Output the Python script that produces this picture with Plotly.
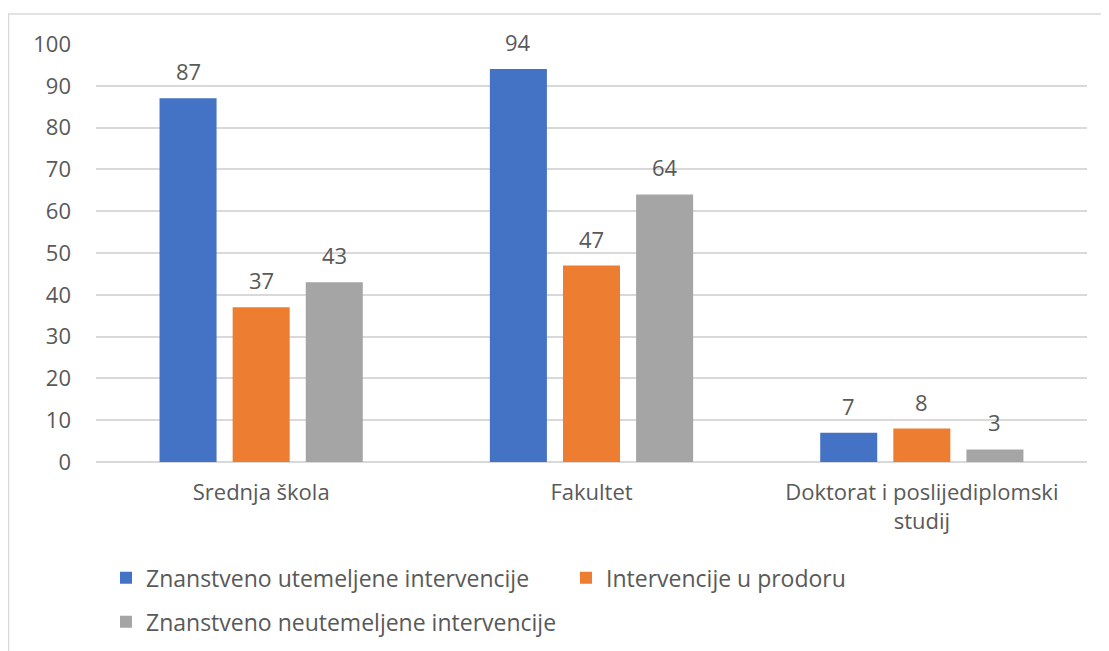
import plotly.graph_objects as go

# ---- data ----
categories = ["Srednja škola", "Fakultet", "Doktorat i poslijediplomski<br>studij"]
series_names = [
    "Znanstveno utemeljene intervencije",
    "Intervencije u prodoru",
    "Znanstveno neutemeljene intervencije",
]
utemeljene = [87, 94, 7]
u_prodoru = [37, 47, 8]
neutemeljene = [43, 64, 3]
y_ticks = [0, 10, 20, 30, 40, 50, 60, 70, 80, 90, 100]

series_values = [utemeljene, u_prodoru, neutemeljene]
colors = ["#4472C4", "#ED7D31", "#A5A5A5"]
legend_ids = ["legend", "legend", "legend2"]

FONT = "Open Sans"
TXT = "#595959"
GRID = "#D9D9D9"
FS = 22
FS_LEG = 23

# page offset introduced by the default body margin
OFF = 8
W, H = 1109 - OFF, 651 - OFF
# plot area in page pixels: x 96..1087, y 43.5..462
PX0, PX1, PY0, PY1 = 96, 1087, 43.5, 462
ML, MR = PX0 - OFF, W - (PX1 - OFF)
MT, MB = PY0 - OFF, H - (PY1 - OFF)
BARGAP, BARGROUPGAP = 0.336, 0.22

fig = go.Figure()
for name, vals, col, lg in zip(series_names, series_values, colors, legend_ids):
    fig.add_trace(go.Bar(
        x=categories, y=vals, name=name, marker_color=col,
        marker_line_width=0, legend=lg, hoverinfo="x+y+name",
    ))

plot_w = PX1 - PX0
plot_h = PY1 - PY0

# data labels above bars
slot = plot_w / len(categories) * (1 - BARGAP) / len(series_values)
for i, vals in enumerate(series_values):
    for cat, v in zip(categories, vals):
        fig.add_annotation(
            x=cat, y=v, text=str(v), showarrow=False,
            xshift=(i - 1) * slot, yshift=27, yanchor="middle",
            font=dict(family=FONT, size=FS, color=TXT),
        )

def px_to_paper_x(px):
    return (px - PX0) / plot_w

def px_to_paper_y(py):
    return (PY1 - py) / plot_h

# outer chart border (light gray)
fig.add_shape(
    type="rect", xref="paper", yref="paper",
    x0=px_to_paper_x(8.5), x1=px_to_paper_x(1140),
    y0=px_to_paper_y(690), y1=px_to_paper_y(13.5),
    line=dict(color=GRID, width=1.5), fillcolor="rgba(0,0,0,0)", layer="below",
)

fig.update_layout(
    width=W, height=H,
    margin=dict(l=ML, r=MR, t=MT, b=MB, pad=0, autoexpand=False),
    paper_bgcolor="white", plot_bgcolor="white",
    font=dict(family=FONT, size=FS, color=TXT),
    barmode="group", bargap=BARGAP, bargroupgap=BARGROUPGAP,
    xaxis=dict(
        showgrid=False, showline=False, zeroline=False, ticks="",
        tickfont=dict(family=FONT, size=FS, color=TXT),
        ticklabelstandoff=15, automargin=False,
    ),
    yaxis=dict(
        range=[0, 100], tickvals=y_ticks, showgrid=True, gridcolor=GRID,
        gridwidth=1.5, zeroline=True, zerolinecolor=GRID, zerolinewidth=1.5,
        showline=False, ticks="", ticklabelstandoff=24, automargin=False,
        tickfont=dict(family=FONT, size=FS, color=TXT),
    ),
    legend=dict(
        orientation="h", x=px_to_paper_x(106), xanchor="left",
        y=px_to_paper_y(578), yanchor="middle",
        font=dict(family=FONT, size=FS_LEG, color=TXT), entrywidth=415,
        bgcolor="rgba(0,0,0,0)",
    ),
    legend2=dict(
        orientation="h", x=px_to_paper_x(106), xanchor="left",
        y=px_to_paper_y(622), yanchor="middle",
        font=dict(family=FONT, size=FS_LEG, color=TXT),
        bgcolor="rgba(0,0,0,0)",
    ),
    showlegend=True,
)

fig.write_html("out.html")
